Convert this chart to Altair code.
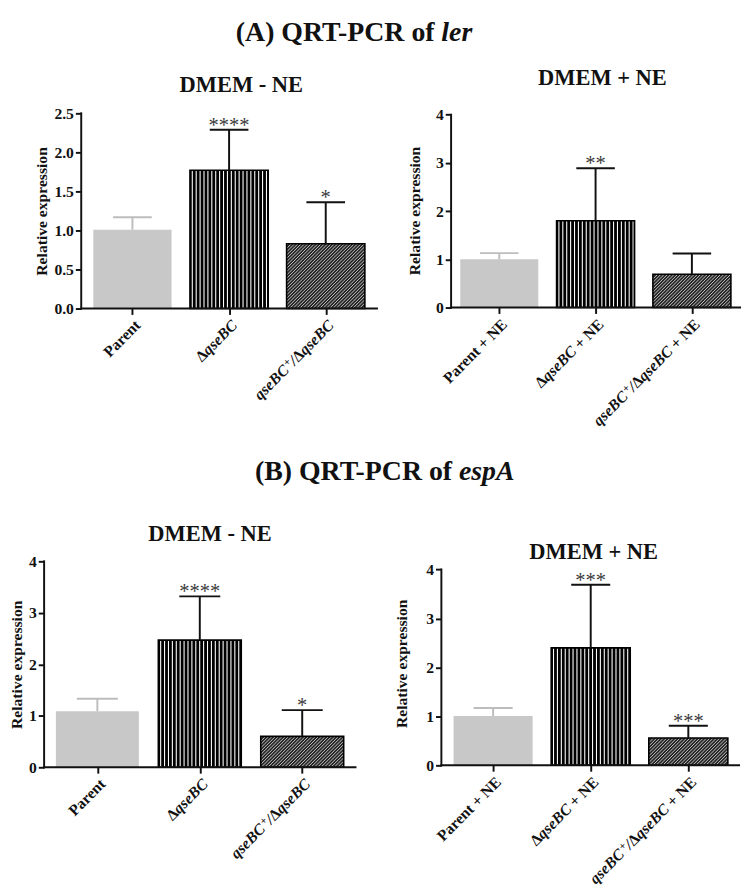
import altair as alt
import numpy as np
import pandas as pd

# ---------------- data ----------------
# category labels: list of (text, style) pieces; style: normal / italic / sup
labels_minus = [
    [("Parent", "normal")],
    [("Δ", "normal"), ("qseBC", "italic")],
    [("qseBC", "italic"), ("+", "sup"), ("/", "italic"), ("Δ", "normal"), ("qseBC", "italic")],
]
labels_plus = [lab + [(" + NE", "normal")] for lab in labels_minus]
groups = ["parent", "delta", "comp"]

ler_minus_mean = [1.01, 1.77, 0.83]
ler_minus_err = [0.16, 0.52, 0.53]
ler_minus_sig = ["", "****", "*"]

ler_plus_mean = [1.00, 1.80, 0.69]
ler_plus_err = [0.13, 1.09, 0.43]
ler_plus_sig = ["", "**", ""]

espA_minus_mean = [1.09, 2.47, 0.60]
espA_minus_err = [0.24, 0.85, 0.51]
espA_minus_sig = ["", "****", "*"]

espA_plus_mean = [1.01, 2.40, 0.56]
espA_plus_err = [0.16, 1.29, 0.25]
espA_plus_sig = ["", "***", "***"]

ler_ticks = [0, 0.5, 1.0, 1.5, 2.0, 2.5]
espA_ticks = [0, 1, 2, 3, 4]

main_title_A = ["(A) QRT-PCR of", "ler"]
main_title_B = ["(B) QRT-PCR of", "espA"]
panel_titles = ["DMEM - NE", "DMEM + NE", "DMEM - NE", "DMEM + NE"]
y_title = "Relative expression"

# ---------------- styling ----------------
FONT = "Liberation Serif"
INK = "#111111"
HW = 0.405      # half bar width (category units)
CAP = 0.2       # half cap width
LAB = 16        # x label font size
SUP = 11        # superscript size
TITLE = 28.5    # main title size
fill_range = ["#c8c8c8", "#000000", "#262626"]
err_range = ["#bdbdbd", "#111111", "#111111"]

# advance widths (em) of the Times-metric bold / bold-italic glyphs used in labels
W_BOLD = {" ": 0.25, "+": 0.57, "N": 0.722, "E": 0.667, "P": 0.611, "a": 0.5,
          "r": 0.444, "e": 0.444, "n": 0.556, "t": 0.333, "Δ": 0.64}
W_BI = {"q": 0.5, "s": 0.389, "e": 0.444, "B": 0.667, "C": 0.667, "/": 0.278, "+": 0.57}


def seg_width(txt, style):
    if style == "normal":
        return sum(W_BOLD[c] for c in txt) * LAB
    if style == "sup":
        return sum(W_BI[c] for c in txt) * SUP + 1.5
    return sum(W_BI[c] for c in txt) * LAB


def text_layer(txt, x, y, size, weight="bold", style="normal", align="center", color=INK):
    return alt.Chart(pd.DataFrame({"t": [txt]})).mark_text(
        font=FONT, fontSize=size, fontWeight=weight, fontStyle=style,
        align=align, baseline="alphabetic", color=color
    ).encode(x=alt.value(x), y=alt.value(y), text="t:N")


def panel(means, errs, sigs, labels, W, H, xdom, ymax, ax0, ytop, yticks, yfmt, ytx,
          sub, subx, suby, extra=()):
    pos = [0, 1, 2]
    df = pd.DataFrame({
        "pos": pos, "mean": means,
        "top": [m + e for m, e in zip(means, errs)],
        "sig": sigs, "grp": groups,
        "xl": [p - HW for p in pos], "xr": [p + HW for p in pos],
        "cl": [p - CAP for p in pos], "cr": [p + CAP for p in pos],
    })
    xs = alt.Scale(domain=xdom, nice=False, zero=False)
    ys = alt.Scale(domain=[0, ymax], nice=False, zero=False)
    ppx = W / (xdom[1] - xdom[0])
    ppy = H / ymax
    y_offset = -(ax0 - xdom[0]) * ppx

    xaxis = alt.Axis(
        values=pos, labels=False, title=None, grid=False, domain=False,
        tickSize=6, tickWidth=2, tickColor=INK,
    )
    yaxis = alt.Axis(
        values=yticks, format=yfmt, grid=False, title=y_title, domain=False,
        offset=y_offset,
        labelFont=FONT, labelFontSize=16, labelFontWeight="bold", labelColor=INK,
        labelPadding=2, tickSize=6, tickWidth=2, tickColor=INK,
        titleFont=FONT, titleFontSize=16, titleFontWeight="bold", titleColor=INK,
        titleX=ytx, titleY=H / 2,
    )

    def X(f):
        return alt.X(f, scale=xs, axis=xaxis)

    def Y(f):
        return alt.Y(f, scale=ys, axis=yaxis)

    color = alt.Color("grp:N", scale=alt.Scale(domain=groups, range=fill_range), legend=None)
    ecolor = alt.Color("grp:N", scale=alt.Scale(domain=groups, range=err_range), legend=None)

    base = alt.Chart(df)
    bars = base.mark_rect().encode(
        x=X("xl:Q"), x2="xr:Q", y=Y("mean:Q"), y2=alt.datum(0), fill=color)

    # vertical stripes for the deletion mutant bar
    step = 4.0 / ppx
    sx = np.arange(1 - HW + step * 0.6, 1 + HW - step * 0.3, step)
    stripes = alt.Chart(pd.DataFrame({"x": sx, "y": 0.0, "y2": means[1]})).mark_rule(
        color="white", strokeWidth=1.1
    ).encode(x=X("x:Q"), y=Y("y:Q"), y2="y2:Q")

    # diagonal hatch for the complemented bar
    c_left = 2 - HW
    wpx = 2 * HW * ppx
    hpx = means[2] * ppy
    rows = []
    for k in np.arange(-hpx + 1.5, wpx, 3.4):
        y0 = max(0.0, -k)
        y1 = min(hpx, wpx - k)
        if y1 - y0 < 0.5:
            continue
        rows.append({"x": c_left + (y0 + k) / ppx, "x2": c_left + (y1 + k) / ppx,
                     "y": y0 / ppy, "y2": y1 / ppy})
    hatch = alt.Chart(pd.DataFrame(rows)).mark_rule(color="#c4c4c4", strokeWidth=1).encode(
        x=X("x:Q"), x2="x2:Q", y=Y("y:Q"), y2="y2:Q")

    outline = base.transform_filter("datum.grp != 'parent'").mark_rect(
        fillOpacity=0, stroke="black", strokeWidth=1.6
    ).encode(x=X("xl:Q"), x2="xr:Q", y=Y("mean:Q"), y2=alt.datum(0))

    err = base.mark_rule(strokeWidth=2).encode(
        x=X("pos:Q"), y=Y("mean:Q"), y2="top:Q", color=ecolor)
    cap = base.mark_rule(strokeWidth=2).encode(
        x=X("cl:Q"), x2="cr:Q", y=Y("top:Q"), color=ecolor)
    stars = base.mark_text(font=FONT, fontSize=21, baseline="alphabetic", dy=2,
                           color="#3a3a3a").encode(
        x=X("pos:Q"), y=Y("top:Q"), text="sig:N")

    # axis lines (drawn through the scales)
    yline = alt.Chart(pd.DataFrame({"x": [ax0], "y": [0.0], "y2": [ytop]})).mark_rule(
        color=INK, strokeWidth=2, strokeCap="square").encode(x=X("x:Q"), y=Y("y:Q"), y2="y2:Q")
    xline = alt.Chart(pd.DataFrame({"x": [ax0], "x2": [xdom[1]], "y": [0.0]})).mark_rule(
        color=INK, strokeWidth=2, strokeCap="square").encode(x=X("x:Q"), x2="x2:Q", y=Y("y:Q"))

    # rotated category labels, built from upright / italic / superscript pieces
    lab_layers = []
    for i, pieces in enumerate(labels):
        off = 0.0
        for txt, style in reversed(pieces):
            size = SUP if style == "sup" else LAB
            fstyle = "normal" if style == "normal" else "italic"
            lab_layers.append(
                alt.Chart(pd.DataFrame({"pos": [i], "t": [txt]})).mark_text(
                    font=FONT, fontSize=size, fontWeight="bold", fontStyle=fstyle,
                    align="right", baseline="top", angle=315, dx=-off,
                    dy=-1 if style == "sup" else 0, color=INK,
                ).encode(x=X("pos:Q"), y=alt.value(H + 9), text="t:N")
            )
            off += seg_width(txt, style)

    subt = text_layer(sub, subx, suby, 23)
    layers = [bars, stripes, hatch, outline, err, cap, stars, yline, xline, subt] \
        + lab_layers + list(extra)
    return alt.layer(*layers).properties(width=W, height=H)


titleA = [
    text_layer(main_title_A[0], 400, -74, TITLE, align="right"),
    text_layer(main_title_A[1], 407, -74, TITLE, style="italic", align="left"),
]
titleB = [
    text_layer(main_title_B[0], 418, -83, TITLE, align="right"),
    text_layer(main_title_B[1], 425, -83, TITLE, style="italic", align="left"),
]

# panel A1: plot box from page x 45 (axis line at 83)
A1 = panel(ler_minus_mean, ler_minus_err, ler_minus_sig, labels_minus,
           341, 200, [-0.914, 2.53], 2.5, -0.53, 2.5, ler_ticks, ".1f", -33,
           panel_titles[0], 202, -22, titleA)
# panel A2: plot box from page x 443 (axis line at 453)
A2 = panel(ler_plus_mean, ler_plus_err, ler_plus_sig, labels_plus,
           306, 199, [-0.601, 2.5], 4.03, -0.5, 4, espA_ticks, "d", -29,
           panel_titles[1], 165, -29)
B1 = panel(espA_minus_mean, espA_minus_err, espA_minus_sig, labels_minus,
           319, 211, [-0.52, 2.52], 4, -0.52, 4, espA_ticks, "d", -20,
           panel_titles[2], 170, -21, titleB)
B2 = panel(espA_plus_mean, espA_plus_err, espA_plus_sig, labels_plus,
           305, 209, [-0.53, 2.52], 4.167, -0.53, 4, espA_ticks, "d", -33,
           panel_titles[3], 156, -2)

chart = alt.concat(
    A1, A2, B1, B2, columns=2, spacing={"row": 259, "column": 66},
    bounds="flush", align="each",
).properties(
    padding={"left": 1, "top": 0, "right": 0, "bottom": 0}
).configure_view(stroke=None)

chart.save("out.html", embed_options={"renderer": "svg", "actions": False})
